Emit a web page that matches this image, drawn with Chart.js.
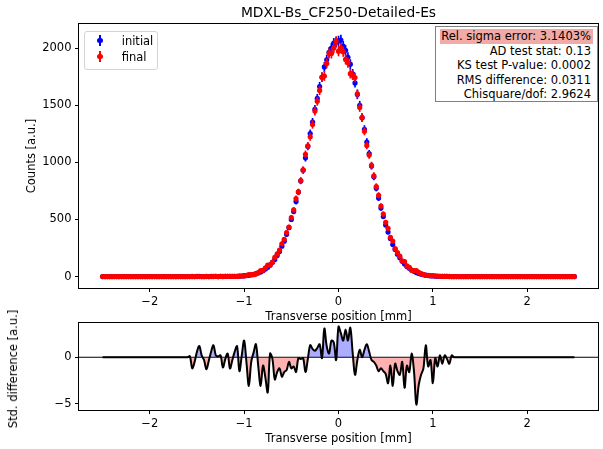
<!DOCTYPE html>
<html><head><meta charset="utf-8">
<script src="https://cdn.jsdelivr.net/npm/chart.js@4.4.1/dist/chart.umd.min.js"></script>
<style>
html,body{margin:0;padding:0;background:#fff;}
#wrap{position:relative;width:603px;height:449px;overflow:hidden;font-family:'DejaVu Sans',sans-serif;color:#000;}
canvas{position:absolute;left:0;}
#topChart{top:0;}
#botChart{top:300px;}
.txt{position:absolute;white-space:nowrap;font-size:11.5px;line-height:15px;}
</style></head><body>
<div id="wrap">
<canvas id="topChart" width="603" height="330"></canvas>
<canvas id="botChart" width="603" height="149"></canvas>
<div id="title" style="position:absolute;left:338.5px;top:4.2px;transform:translateX(-50%);font-size:13.8px;line-height:16px;white-space:nowrap;"></div>
<div id="diffLabel" style="position:absolute;left:12.5px;top:369px;transform:translate(-50%,-50%) rotate(-90deg);font-size:11.5px;line-height:14px;white-space:nowrap;"></div>
<div id="legend" style="position:absolute;left:84px;top:30.5px;width:74px;height:39px;box-sizing:border-box;border:1px solid #d3d3d3;border-radius:3px;background:rgba(255,255,255,0.8);"></div>
<div id="stats" style="position:absolute;left:435px;top:26px;width:163px;height:76px;box-sizing:border-box;border:1px solid #808080;background:#fff;"></div>
</div>
<script>
// ---------- data ----------
const chartTitle = 'MDXL-Bs_CF250-Detailed-Es';
const seriesNames = ['initial', 'final'];
const positions = [
-2.5,-2.475,-2.45,-2.425,-2.4,-2.375,-2.35,-2.325,-2.3,-2.275,
-2.25,-2.225,-2.2,-2.175,-2.15,-2.125,-2.1,-2.075,-2.05,-2.025,
-2,-1.975,-1.95,-1.925,-1.9,-1.875,-1.85,-1.825,-1.8,-1.775,
-1.75,-1.725,-1.7,-1.675,-1.65,-1.625,-1.6,-1.575,-1.55,-1.525,
-1.5,-1.475,-1.45,-1.425,-1.4,-1.375,-1.35,-1.325,-1.3,-1.275,
-1.25,-1.225,-1.2,-1.175,-1.15,-1.125,-1.1,-1.075,-1.05,-1.025,
-1,-0.975,-0.95,-0.925,-0.9,-0.875,-0.85,-0.825,-0.8,-0.775,
-0.75,-0.725,-0.7,-0.675,-0.65,-0.625,-0.6,-0.575,-0.55,-0.525,
-0.5,-0.475,-0.45,-0.425,-0.4,-0.375,-0.35,-0.325,-0.3,-0.275,
-0.25,-0.225,-0.2,-0.175,-0.15,-0.125,-0.1,-0.075,-0.05,-0.025,
0,0.025,0.05,0.075,0.1,0.125,0.15,0.175,0.2,0.225,
0.25,0.275,0.3,0.325,0.35,0.375,0.4,0.425,0.45,0.475,
0.5,0.525,0.55,0.575,0.6,0.625,0.65,0.675,0.7,0.725,
0.75,0.775,0.8,0.825,0.85,0.875,0.9,0.925,0.95,0.975,
1,1.025,1.05,1.075,1.1,1.125,1.15,1.175,1.2,1.225,
1.25,1.275,1.3,1.325,1.35,1.375,1.4,1.425,1.45,1.475,
1.5,1.525,1.55,1.575,1.6,1.625,1.65,1.675,1.7,1.725,
1.75,1.775,1.8,1.825,1.85,1.875,1.9,1.925,1.95,1.975,
2,2.025,2.05,2.075,2.1,2.125,2.15,2.175,2.2,2.225,
2.25,2.275,2.3,2.325,2.35,2.375,2.4,2.425,2.45,2.475,
2.5];
const initialCounts = [
0,0,0,0,0,0,0,0,0,0,
0,0,0,0,0,0,0,0,0,0,
0,0,0,0,0,0,0,0,0,0,
0,0,0,0,0,0,0,0,0,0,
1,1,0,0,0,0,1,2,1,0,
1,0,1,1,1,1,2,3,3,5,
8,9,11,15,19,26,32,41,51,66,
81,102,125,150,185,220,266,310,370,428,
500,570,658,740,838,932,1040,1140,1252,1352,
1465,1560,1664,1745,1836,1898,1964,2002,2044,2052,
2064,2072,2018,1982,1920,1860,1776,1696,1594,1500,
1392,1290,1178,1076,968,874,774,688,600,526,
452,390,334,280,238,196,164,134,110,88,
72,57,46,35,27,21,16,13,9,7,
5,4,3,2,1,1,1,0,0,0,
0,0,0,0,0,0,0,0,0,0,
0,0,0,0,0,0,0,0,0,0,
0,0,0,0,0,0,0,0,0,0,
0,0,0,0,0,0,0,0,0,0,
0,0,0,0,0,0,0,0,0,0,
0];
const finalCounts = [
0,0,0,0,0,0,0,0,0,0,
0,0,0,0,0,0,0,0,0,0,
0,0,0,0,0,0,0,0,0,0,
0,0,0,0,0,0,0,0,1,0,
0,0,0,0,2,0,0,0,1,0,
1,1,1,1,3,2,1,1,6,5,
4,10,18,17,17,22,35,53,55,77,
101,100,126,168,198,231,287,327,386,434,
516,584,683,742,841,934,1071,1144,1224,1332,
1449,1536,1630,1747,1756,1867,1953,1954,2001,2060,
1974,2001,1969,1902,1873,1777,1763,1743,1601,1481,
1392,1273,1149,1064,974,883,789,712,618,547,
475,423,344,311,245,209,179,138,131,93,
80,55,52,53,36,26,19,10,11,8,
9,4,4,2,2,1,1,1,0,0,
0,0,0,0,0,0,0,0,0,0,
0,0,0,0,0,0,0,0,0,0,
0,0,0,0,0,0,0,0,0,0,
0,0,0,0,0,0,0,0,0,0,
0,0,0,0,0,0,0,0,0,0,
0];
const stdDifference = [
0,0,0,0,0,0,0,0,0,0,
0,0,0,0,0,0,0,0,0,0,
0,0,0,0,0,0,0,0,0,0,
0,0,0,0,0,0,0,0.1,-1.2,-0.5,
0.6,1.2,0.2,-0.3,-1.3,-0.4,0.6,1.3,0.2,0.1,
0.2,-1.1,-0.2,0.4,-1.2,-0.3,0.6,1.2,-1.5,0.2,
1.8,-0.6,-3.1,-0.5,0.5,1.4,-1.0,-3.1,-0.9,-2.2,
-3.8,0.4,-0.2,-2.4,-1.6,-1.2,-2.1,-1.6,-1.4,-0.5,
-1.2,-1.0,-1.6,-0.1,-0.2,-0.1,-1.6,-0.2,1.3,0.9,
0.7,1.0,1.4,-0.1,3.1,1.2,0.4,1.8,1.6,-0.3,
3.3,2.6,1.8,3.0,1.8,3.2,0.5,-1.9,-0.3,0.8,
0.0,0.8,1.4,0.6,-0.3,-0.5,-0.9,-1.5,-1.2,-1.5,
-1.8,-2.8,-0.9,-3.1,-0.7,-1.5,-1.9,-0.5,-3.3,-0.9,
-1.6,0.4,-1.5,-5.1,-3.0,-1.9,-1.2,1.3,-1.0,-0.3,
-2.8,-0.1,-1.0,0.2,-0.7,0.2,-0.2,-0.7,0.2,0,
0,0,0,0,0,0,0,0,0,0,
0,0,0,0,0,0,0,0,0,0,
0,0,0,0,0,0,0,0,0,0,
0,0,0,0,0,0,0,0,0,0,
0,0,0,0,0,0,0,0,0,0,
0];
const xTicks = [-2, -1, 0, 1, 2];
const countTicks = [0, 500, 1000, 1500, 2000];
const diffTicks = [-5, 0];
const xRange = [-2.75, 2.75];
const countRange = [-100, 2212];
const diffRange = [-5.7, 3.7];
const statLines = ['Rel. sigma error: 3.1403%', 'AD test stat: 0.13', 'KS test P-value: 0.0002', 'RMS difference: 0.0311', 'Chisquare/dof: 2.9624'];
const axisLabels = {x: 'Transverse position [mm]', counts: 'Counts [a.u.]', diff: 'Std. difference [a.u.]'};

// ---------- styling ----------
const FONT = "'DejaVu Sans', sans-serif";
const colors = ['#0000ff', '#ff0000'];
Chart.defaults.font.family = FONT;
Chart.defaults.font.size = 11.5;
Chart.defaults.color = '#000';

document.getElementById('title').textContent = chartTitle;
document.getElementById('diffLabel').textContent = axisLabels.diff;

const fmt = v => (v < 0 ? '\u2212' + Math.abs(v) : String(v));

const frame = {
  id: 'frame',
  afterDatasetsDraw(chart) {
    const {ctx, chartArea: a} = chart;
    ctx.save();
    ctx.strokeStyle = '#000';
    ctx.lineWidth = 1;
    ctx.strokeRect(Math.round(a.left) - 0.5, Math.round(a.top) - 0.5, Math.round(a.right - a.left) + 1, Math.round(a.bottom - a.top) + 1);
    ctx.restore();
  }
};

function axis(range, ticks, title, fitSize, isX, titlePad) {
  return {
    type: 'linear',
    min: range[0], max: range[1],
    offset: false,
    beginAtZero: false,
    afterBuildTicks: s => { s.ticks = ticks.map(v => ({value: v})); },
    afterFit: s => { if (isX) s.height = fitSize; else s.width = fitSize; },
    grid: {display: true, offset: false, drawOnChartArea: false, drawTicks: true, tickLength: 4, tickWidth: 1, tickColor: '#000'},
    border: {display: false},
    ticks: {padding: 3.5, color: '#000', font: {size: 11.5}, callback: v => fmt(v), autoSkip: false, maxRotation: 0},
    title: {display: !!title, text: title || '', color: '#000', font: {size: 11.5}, padding: titlePad}
  };
}

const errData = counts => positions.map((x, i) => ({x: x, y: [counts[i] - Math.sqrt(counts[i]), counts[i] + Math.sqrt(counts[i])]}));
const ptData = counts => positions.map((x, i) => ({x: x, y: counts[i]}));

const topDatasets = [];
[initialCounts, finalCounts].forEach((c, k) => {
  topDatasets.push({type: 'bar', label: seriesNames[k] + ' err', data: errData(c), backgroundColor: colors[k], borderWidth: 0,
    barThickness: 1.7, grouped: false, inflateAmount: 0, order: 4 - 2 * k});
  topDatasets.push({type: 'scatter', label: seriesNames[k], data: ptData(c), backgroundColor: colors[k], borderWidth: 0,
    pointRadius: 2.6, pointStyle: 'circle', showLine: false, order: 3 - 2 * k});
});

new Chart(document.getElementById('topChart'), {
  type: 'scatter',
  data: {datasets: topDatasets},
  options: {
    responsive: false, maintainAspectRatio: false, animation: false, devicePixelRatio: 1, events: [],
    layout: {padding: {left: 0, right: 5, top: 24, bottom: 0}},
    plugins: {legend: {display: false}, tooltip: {enabled: false}, title: {display: false}},
    scales: {
      x: axis(xRange, xTicks, axisLabels.x, 42, true, {top: 0, bottom: 6.1}),
      y: axis(countRange, countTicks, axisLabels.counts, 79, false, {top: 24.8, bottom: 0})
    }
  },
  plugins: [frame]
});

new Chart(document.getElementById('botChart'), {
  type: 'scatter',
  data: {datasets: [
    {type: 'line', label: 'difference', data: positions.map((x, i) => ({x: x, y: stdDifference[i]})), borderColor: '#000', borderWidth: 2,
      pointRadius: 0, showLine: true, tension: 0.35, order: 1,
      fill: {target: 'origin', above: 'rgba(0,0,255,0.32)', below: 'rgba(255,0,0,0.3)'}},
    {type: 'line', label: 'zero', data: xRange.map(x => ({x: x, y: 0})), borderColor: '#000', borderWidth: 1.2,
      pointRadius: 0, showLine: true, fill: false, order: 2}
  ]},
  options: {
    responsive: false, maintainAspectRatio: false, animation: false, devicePixelRatio: 1, events: [],
    layout: {padding: {left: 0, right: 5, top: 23, bottom: 0}},
    plugins: {legend: {display: false}, tooltip: {enabled: false}, title: {display: false}},
    scales: {
      x: axis(xRange, xTicks, axisLabels.x, 39, true, {top: 0, bottom: 3.1}),
      y: axis(diffRange, diffTicks, null, 79, false, {top: 0, bottom: 0})
    }
  },
  plugins: [frame]
});

// ---------- legend (inside axes, top-left) ----------
const wrap = document.getElementById('wrap');
const legendRows = [{c: 40.5, top: 32.7}, {c: 56.8, top: 49.1}];
seriesNames.forEach((name, k) => {
  const bar = document.createElement('div');
  bar.style.cssText = `position:absolute;left:${100 - 0.85}px;top:${legendRows[k].c - 5.5}px;width:1.7px;height:11px;background:${colors[k]};`;
  const dot = document.createElement('div');
  dot.style.cssText = `position:absolute;left:${100 - 2.6}px;top:${legendRows[k].c - 2.6}px;width:5.2px;height:5.2px;border-radius:50%;background:${colors[k]};`;
  const lab = document.createElement('div');
  lab.className = 'txt';
  lab.style.cssText += `left:121.7px;top:${legendRows[k].top}px;line-height:16px;`;
  lab.textContent = name;
  wrap.append(bar, dot, lab);
});

// ---------- statistics box ----------
const hl = document.createElement('div');
hl.style.cssText = 'position:absolute;left:440px;top:29px;width:153px;height:15px;background:rgb(242,170,166);';
wrap.appendChild(hl);
statLines.forEach((t, k) => {
  const d = document.createElement('div');
  d.className = 'txt';
  d.style.cssText += `right:12px;top:${29.3 + 14.4 * k}px;`;
  d.textContent = t;
  wrap.appendChild(d);
});
</script>
</body></html>
